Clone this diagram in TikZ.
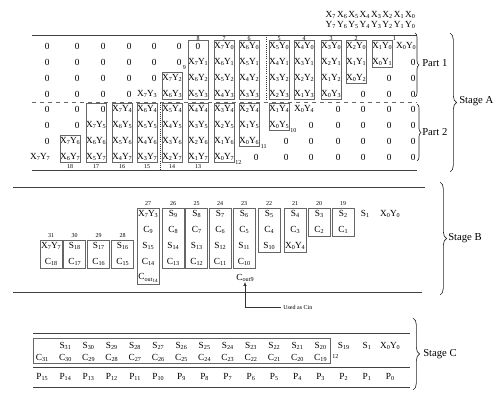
\documentclass[tikz,border=0pt]{standalone}
\usepackage{fontspec}
\setmainfont{Liberation Serif}
\usetikzlibrary{decorations.pathreplacing,arrows.meta}
\newcommand\sbs[1]{\raisebox{-0.35ex}{\fontsize{4.6}{5}\selectfont #1}}
\newcommand\pXY[2]{X\sbs{#1}Y\sbs{#2}}
\newcommand\pS[1]{S\sbs{#1}}
\newcommand\pC[1]{C\sbs{#1}}
\newcommand\pP[1]{P\sbs{#1}}
\def\colL{{396,372,346,321,294,269,239,214,188,162,137,112,86,60,30}}
\def\cB{{390,365,343,319,295,269,244,220,196.5,173,148,122.5,98.5,74.5,51}}
\begin{document}
\begin{tikzpicture}[x=0.75pt,y=-0.75pt,font=\fontsize{7}{8.4}\selectfont,
  cell/.style={inner sep=0pt,outer sep=0pt},
  bx/.style={draw=black!60,line width=0.55pt},
  lbl/.style={inner sep=0pt,font=\fontsize{4.5}{5}\selectfont},
  side/.style={inner sep=0pt,anchor=west,font=\fontsize{8}{9}\selectfont},
  rulel/.style={draw=black!75,line width=0.55pt},
  bracedec/.style={draw=black!85,line width=0.5pt,decorate,decoration={brace,amplitude=#1}},
  bracedec/.default=3pt]
\useasboundingbox (0,0) rectangle (495,393);

% header
\node[cell,anchor=east] (hx) at (415,15) {X\sbs{7}\,X\sbs{6}\,X\sbs{5}\,X\sbs{4}\,X\sbs{3}\,X\sbs{2}\,X\sbs{1}\,X\sbs{0}};
\node[cell,anchor=east] (hy) at (415,25) {Y\sbs{7}\,Y\sbs{6}\,Y\sbs{5}\,Y\sbs{4}\,Y\sbs{3}\,Y\sbs{2}\,Y\sbs{1}\,Y\sbs{0}};

% Stage A rules
\draw[rulel] (32,35) -- (417,35);
\draw[black!60,dashed,line width=0.6pt] (32,102) -- (417,102);
\draw[rulel] (32,170) -- (417,170);
\draw[black!80,densely dotted,line width=0.6pt] (266,35) -- (266,101);
\draw[black!80,densely dotted,line width=0.6pt] (160,103) -- (160,170);

% Part 1 cells
\foreach \rr in {0,...,3}{
 \foreach \ww in {0,...,14}{
  \pgfmathsetmacro\lx{\colL[\ww]}
  \pgfmathtruncatemacro\ix{\ww-\rr}
  \pgfmathsetmacro\yy{46+16*\rr}
  \pgfmathtruncatemacro\isp{(\ix>=0)&&(\ix<=7)}
  \pgfmathtruncatemacro\iscen{(\ww==8)&&(\rr==0)}
  \ifnum\isp=1
    \node[cell] (pa-\rr-\ww) at (\lx+10,\yy) {\pXY{\ix}{\rr}};
  \else
    \ifnum\iscen=1
      \node[cell] (pa-\rr-\ww) at (\lx+10,\yy) {0};
    \else
      \node[cell,anchor=east] (pa-\rr-\ww) at (\lx+19.5,\yy) {0};
    \fi
  \fi
 }
}
% Part 1 boxes
\foreach \ww/\ra/\rb in {9/2/3,8/0/3,7/0/3,6/0/3,5/0/3,4/0/3,3/0/3,2/0/2,1/0/1}{
  \pgfmathsetmacro\lx{\colL[\ww]}
  \draw[bx] (\lx,46+16*\ra-5.5) rectangle (\lx+20,46+16*\rb+5.5);
}
\foreach \ww in {8,...,2}{
  \pgfmathsetmacro\lx{\colL[\ww]}
  \node[lbl] (la-\ww) at (\lx+10,38.5) {\ww};
}
\node[lbl,anchor=west] (la-1) at (392.5,39) {1};
\node[lbl,anchor=west] (la-9) at (182.5,67.5) {9};

% Part 2 cells
\foreach \rr in {0,...,3}{
 \foreach \ww in {0,...,14}{
  \pgfmathsetmacro\lx{\colL[\ww]}
  \pgfmathtruncatemacro\ix{\ww-4-\rr}
  \pgfmathtruncatemacro\yi{4+\rr}
  \pgfmathsetmacro\yy{109+16*\rr}
  \pgfmathtruncatemacro\isp{(\ix>=0)&&(\ix<=7)}
  \ifnum\isp=1
    \node[cell] (pb-\rr-\ww) at (\lx+10,\yy) {\pXY{\ix}{\yi}};
  \else
    \node[cell,anchor=east] (pb-\rr-\ww) at (\lx+19.5,\yy) {0};
  \fi
 }
}
% Part 2 boxes
\foreach \ww/\ra/\rb in {13/2/3,12/0/3,11/0/3,10/0/3,9/0/3,8/0/3,7/0/3,6/0/2,5/0/1}{
  \pgfmathsetmacro\lx{\colL[\ww]}
  \draw[bx] (\lx,109+16*\ra-5.5) rectangle (\lx+20,109+16*\rb+5.5);
}
\foreach \ww in {13,...,8}{
  \pgfmathsetmacro\lx{\colL[\ww]}
  \pgfmathtruncatemacro\nn{\ww+5}
  \node[lbl] (lb-\ww) at (\lx+10,166.5) {\nn};
}
\node[lbl,anchor=west] (lb-7) at (235,162.5) {12};
\node[lbl,anchor=west] (lb-6) at (260.5,146.5) {11};
\node[lbl,anchor=west] (lb-5) at (290,130.5) {10};

% Part / Stage A braces
\draw[bracedec] (415,33) -- (415,97);
\node[side] (part1) at (422,63) {Part 1};
\draw[bracedec] (417,104) -- (417,161);
\node[side] (part2) at (422,132) {Part 2};
\draw[bracedec=5pt] (450,33) -- (450,172);
\node[side] (stA) at (459,101) {Stage A};

% Stage B
\draw[rulel] (13,187) -- (425,187);
\draw[rulel] (13,292) -- (422,292);
\foreach \ww/\rr/\tx [count=\n] in {
  14/2/{\pXY{7}{7}}, 14/3/{\pC{18}},
  13/2/{\pS{18}}, 13/3/{\pC{17}},
  12/2/{\pS{17}}, 12/3/{\pC{16}},
  11/2/{\pS{16}}, 11/3/{\pC{15}},
  10/0/{\pXY{7}{3}}, 10/1/{\pC{9}}, 10/2/{\pS{15}}, 10/3/{\pC{14}},
  10/4/{C\sbs{out\raisebox{-0.3ex}{\fontsize{3.8}{4}\selectfont 14}}},
  9/0/{\pS{9}}, 9/1/{\pC{8}}, 9/2/{\pS{14}}, 9/3/{\pC{13}},
  8/0/{\pS{8}}, 8/1/{\pC{7}}, 8/2/{\pS{13}}, 8/3/{\pC{12}},
  7/0/{\pS{7}}, 7/1/{\pC{6}}, 7/2/{\pS{12}}, 7/3/{\pC{11}},
  6/0/{\pS{6}}, 6/1/{\pC{5}}, 6/2/{\pS{11}}, 6/3/{\pC{10}},
  5/0/{\pS{5}}, 5/1/{\pC{4}}, 5/2/{\pS{10}},
  4/0/{\pS{4}}, 4/1/{\pC{3}}, 4/2/{\pXY{0}{4}},
  3/0/{\pS{3}}, 3/1/{\pC{2}},
  2/0/{\pS{2}}, 2/1/{\pC{1}},
  1/0/{\pS{1}}, 0/0/{\pXY{0}{0}}}{
  \pgfmathsetmacro\cx{\cB[\ww]}
  \node[cell] (sb-\n) at (\cx,214+16*\rr) {\tx};
}
\foreach \ww/\ra/\rb/\nn in {14/2/3/31,13/2/3/30,12/2/3/29,11/2/3/28,10/0/4/27,9/0/3/26,8/0/3/25,7/0/3/24,6/0/3/23,5/0/2/22,4/0/2/21,3/0/1/20,2/0/1/19}{
  \pgfmathsetmacro\cx{\cB[\ww]}
  \draw[bx] (\cx-11,214+16*\ra-6) rectangle (\cx+11,214+16*\rb+6);
  \node[lbl] (lbB-\nn) at (\cx,214+16*\ra-10) {\nn};
}
\node[cell] (cout9) at (245,278) {C\sbs{out9}};
\coordinate (cinc) at (245,307);
\node[lbl,anchor=west] (cintxt) at (283,307) {Used as Cin};
\draw[black!80,line width=0.5pt,-{Latex[length=3pt,width=2.5pt]}] ([xshift=-1.5pt]cintxt.west) -- (cinc) -- (cout9.south);
\draw[bracedec=5pt] (440,182) -- (440,295);
\node[side] (stB) at (448,238) {Stage B};

% Stage C
\draw[rulel] (33,333) -- (410,333);
\draw[bx] (33,338) rectangle (330,363);
\draw[rulel] (33,367) -- (410,367);
\draw[rulel] (33,387) -- (410,387);
\foreach \k in {3,...,14}{
  \pgfmathtruncatemacro\sn{\k+17}
  \node[cell] (sc-\k) at (390-23.2*\k,346) {\pS{\sn}};
}
\node[cell] (sc-2) at (390-23.2*2,346) {\pS{19}};
\node[cell] (sc-1) at (390-23.2,346) {\pS{1}};
\node[cell] (sc-0) at (390,346) {\pXY{0}{0}};
\foreach \k in {3,...,15}{
  \pgfmathtruncatemacro\cn{\k+16}
  \node[cell] (cc-\k) at (390-23.2*\k,358) {\pC{\cn}};
}
\node[lbl,anchor=west] (lc12) at (332,357) {12};
\foreach \k in {0,...,15}{
  \node[cell] (pc-\k) at (390-23.2*\k,377) {\pP{\k}};
}
\draw[bracedec=5pt] (413,318) -- (413,390);
\node[side] (stC) at (423,354) {Stage C};
\end{tikzpicture}
\end{document}
